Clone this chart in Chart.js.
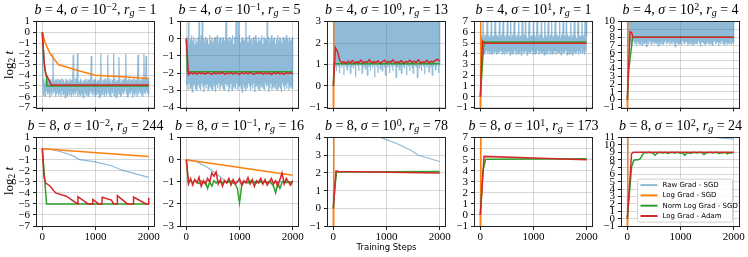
<!DOCTYPE html>
<html>
<head>
<meta charset="utf-8">
<script src="https://cdn.jsdelivr.net/npm/chart.js@4.4.1/dist/chart.umd.min.js"></script>
<style>
  body { margin: 0; background: #fff; }
  #fig { position: relative; width: 748px; height: 257px; overflow: hidden; }
  canvas { position: absolute; }
  .ttl { position: absolute; font: 14px "Liberation Serif", serif; line-height: 14px; white-space: nowrap; transform: translateX(-50%); }
  .ttl .sup { position: relative; top: -0.42em; font-size: 0.72em; }
  .ttl .sub { position: relative; top: 0.22em; font-size: 0.72em; }
  .ylab { position: absolute; font: 13px "Liberation Serif", serif; line-height: 13px; white-space: nowrap; transform: translate(-50%, -50%) rotate(-90deg); }
  .ylab .sub { position: relative; top: 0.25em; font-size: 0.72em; }
  .xlab { position: absolute; font: 8.5px "DejaVu Sans", sans-serif; line-height: 10px; white-space: nowrap; transform: translate(-50%, -50%); }
</style>
</head>
<body>
<div id="fig"></div>
<script>
// ---- panel headers (row-major: top row b=4, bottom row b=8) ----
const batch    = [4, 4, 4, 4, 4, 8, 8, 8, 8, 8];
const sigmaExp = [-2, -1, 0, 1, 2, -2, -1, 0, 1, 2];
const rg       = [1, 5, 13, 1, 4, 244, 16, 78, 173, 24];
const yMin     = [-7, -4, -1, -1, -1, -7, -3, -1, -1, -1];
const yMax     = [1, 1, 3, 7, 10, 1, 1, 4, 7, 11];
const xTicks   = [0, 1000, 2000];
const seriesLabels = ['Raw Grad - SGD', 'Log Grad - SGD', 'Norm Log Grad - SGD', 'Log Grad - Adam'];

// noisy series: values at evenly spaced steps 0..2000
// smooth series: [step, log2 t] pairs

// b=4, sigma=1e-2
const raw_b4_s0 = [
  0, -4.5, -5.9, -4.3, -5.6, -4.7, -6.0, -4.4, -5.5, -4.6,
  -5.8, -4.3, -5.7, -4.5, -6.1, -4.4, -5.6, -4.7, -5.9, -4.3,
  -2.0, -5.7, -4.6, -5.5, -4.4, -6.0, -4.5, -5.8, -4.3, -5.6,
  -4.7, -5.9, -4.4, -5.7, -4.5, -6.0, -4.3, -5.5, -4.6, -5.8,
  -4.4, -5.6, -4.7, -6.1, -4.3, -5.7, -4.5, -5.9, -4.4, -5.6,
  -4.6, -5.8, -4.3, -5.5, -4.5, -6.0, -4.4, -5.7, -2.1, -5.9,
  -4.7, -5.6, -4.3, -5.8, -4.5, -5.5, -2.0, -6.0, -4.4, -5.7,
  -4.6, -5.9, -4.3, -5.6, -4.5, -5.8, -4.7, -6.1, -4.4, -5.5,
  -4.5, -5.7, -4.3, -5.9, -4.6, -5.6, -4.4, -6.0, -4.5, -5.8,
  -4.3, -5.5, -2.2, -5.7, -4.7, -5.9, -4.4, -5.6, -4.5, -6.0,
  -4.3, -5.8, -4.6, -5.5, -4.4, -5.7, -4.5, -6.1, -4.3, -5.9,
  -2.0, -5.6, -4.7, -5.8, -4.4, -5.5, -4.5, -6.0, -4.3, -5.7,
  -4.6, -5.9, -4.4, -2.1, -5.6, -4.5, -5.8, -4.3, -6.0, -4.7,
  -5.5, -4.4, -5.7, -4.5, -2.0, -5.9, -4.3, -5.6, -4.6, -6.1,
  -4.4, -5.8, -4.5, -5.5, -2.3, -5.7, -4.3, -6.0, -4.7, -5.9,
  -4.4, -5.6, -4.5, -5.8, -4.3, -5.5, -4.6, -2.0, -5.7, -4.4,
  -6.0, -4.5, -5.9, -4.3, -5.6, -4.7, -5.8, -4.4, -5.5, -4.5,
  -6.1, -4.3, -5.7, -4.6, -5.9, -4.4, -5.6, -4.5, -6.0, -4.3,
  -2.1, -5.8, -4.7, -5.5, -4.4, -5.7, -4.5, -5.9, -4.3, -6.0,
  -4.6, -2.0, -5.6, -4.4, -5.8, -2.2, -5.5, -4.5, -5.7, -4.3,
  -5.9];
const log_b4_s0 = [[0, 0], [50, -0.9], [100, -1.5], [150, -2.0], [300, -3.0], [500, -3.3], [700, -3.6], [1000, -4.0], [1500, -4.15], [2000, -4.3]];
const norm_b4_s0 = [[0, 0], [40, -3.2], [80, -4.3], [85, -5.0], [2000, -5.0]];
const adam_b4_s0 = [[0, 0], [30, -2.5], [60, -3.8], [100, -4.2], [170, -4.9], [2000, -4.9]];

// b=4, sigma=1e-1
const raw_b4_s1 = [
  0, -2.7, 0.1, -3.0, 1.5, -2.6, -0.2, -2.9, 0.0, -2.8,
  0.2, -3.1, -0.1, -2.7, 0.1, -2.6, -0.3, -2.9, 0.0, -3.0,
  -0.2, -2.8, 0.1, -2.7, 1.4, -2.9, -0.1, -3.0, 0.2, -2.6,
  1.6, -2.8, 0.0, -3.1, -0.2, -2.7, 0.1, -2.9, -0.1, -2.6,
  0.0, -3.0, -0.3, -2.8, 0.2, -2.7, -0.1, -2.9, 0.1, -3.0,
  -0.2, -2.6, 0.0, -2.8, 0.1, -3.1, -0.1, -2.7, 0.2, -2.9,
  -0.3, -2.6, 0.0, -3.0, 0.1, -2.8, -0.2, -2.7, 0.0, -2.9,
  0.1, -3.0, -0.1, -2.6, 0.2, 1.3, -2.8, 0.0, -2.7, -0.2,
  -3.1, 0.1, -2.9, -0.1, -2.6, 0.0, -3.0, 0.2, -2.8, -0.3,
  -2.7, 0.1, -2.9, 0.0, 1.5, -2.6, -0.1, -3.0, 1.4, -2.8,
  0.2, -2.7, -0.2, -2.9, 0.0, -3.1, 0.1, -2.6, -0.1, -2.8,
  0.0, -3.0, 1.6, -2.7, 0.1, -2.9, -0.2, -2.6, 0.2, -2.8,
  -0.1, -3.0, 0.0, -2.7, -0.3, -2.9, 0.1, -2.6, -0.1, -3.1,
  0.2, -2.8, 0.0, -2.7, -0.2, -2.9, 0.1, -3.0, -0.1, -2.6,
  0.0, -2.8, 0.2, -2.7, -0.3, -2.9, 0.1, -3.0, 0.0, -2.6,
  -0.1, -2.8, 1.3, -2.7, 0.1, -3.1, -0.2, -2.9, 0.0, -2.6,
  0.2, -3.0, -0.1, -2.8, 0.0, -2.7, 0.1, -2.9, -0.3, -2.6,
  0.0, -3.0, 0.2, -2.8, -0.1, -2.7, 0.1, -2.9, 0.0, -3.1,
  -0.2, -2.6, 0.1, -2.8, 0.0, -3.0, -0.1, -2.7, 0.2, -2.9,
  0.0, -2.6, -0.2, -3.0, 0.1, -2.8, -0.1, -2.7, 0.0, -2.9,
  0.1];
const log_b4_s1 = [];
const norm_b4_s1 = [[0, 0], [20, -1.92], [2000, -1.92]];
const adam_b4_s1 = [0, -2.08, -1.96, -2.04, -1.98, -2.07, -1.95, -2.03, -2.0, -2.06, -1.97, -2.02, -2.08, -1.96, -2.05, -1.99, -2.03, -1.95, -2.07, -2.0, -2.04, -1.97, -2.06, -1.98, -2.02, -2.08, -1.96, -2.04, -1.99, -2.05, -1.95, -2.03, -2.07, -1.98, -2.02, -1.96, -2.06, -2.0, -2.04, -1.97, -2.08, -1.99, -2.03, -1.96, -2.05, -2.0, -2.07, -1.97, -2.02, -1.98, -2.04];

// b=4, sigma=1e0
const raw_b4_s2 = [
  0, 4.5, 0.9, 4.2, 1.0, 4.8, 0.7, 4.4, 0.95, 4.6,
  0.9, 4.3, 0.6, 4.9, 1.0, 4.2, 0.85, 4.5, 0.95, 4.4,
  0.5, 4.7, 1.0, 4.3, 0.9, 4.6, 0.75, 4.2, 0.95, 4.5,
  1.0, 4.8, 0.6, 4.3, 0.9, 4.6, 1.0, 4.4, 0.8, 4.2,
  0.95, 4.7, 0.4, 4.5, 1.0, 4.3, 0.9, 4.6, 0.7, 4.4,
  1.0, 4.8, 0.95, 4.2, 0.6, 4.5, 0.9, 4.3, 1.0, 4.6,
  0.8, 4.4, 0.95, 4.7, 0.5, 4.2, 1.0, 4.5, 0.9, 4.3,
  0.7, 4.6, 1.0, 4.4, 0.85, 4.8, 0.95, 4.2, 0.4, 4.5,
  1.0, 4.3, 0.9, 4.6, 0.6, 4.4, 1.0, 4.7, 0.8, 4.2,
  0.95, 4.5, 0.7, 4.3, 1.0, 4.6, 0.9, 4.4, 0.5, 4.8,
  1.0, 4.2, 0.85, 4.5, 0.95, 4.3, 0.6, 4.6, 1.0, 4.4,
  0.9, 4.7, 0.7, 4.2, 1.0, 4.5, 0.95, 4.3, 0.4, 4.6,
  0.9, 4.4, 1.0, 4.8, 0.75, 4.2, 0.95, 4.5, 0.6, 4.3,
  1.0, 4.6, 0.9, 4.4, 0.8, 4.7, 1.0, 4.2, 0.5, 4.5,
  0.95, 4.3, 0.9, 4.6, 0.7, 4.4, 1.0, 4.8, 0.85, 4.2,
  0.6, 4.5, 1.0, 4.3, 0.95, 4.6, 0.9, 4.4, 0.4, 4.7,
  1.0, 4.2, 0.8, 4.5, 0.95, 4.3, 0.7, 4.6, 1.0, 4.4,
  0.9, 4.8, 0.55, 4.2, 1.0, 4.5, 0.85, 4.3, 0.95, 4.6,
  0.65, 4.4, 1.0, 4.7, 0.9, 4.2, 0.5, 4.5, 0.95, 4.3,
  1.0, 4.6, 0.75, 4.4, 0.9, 4.8, 1.0, 4.2, 0.6, 4.5,
  0.95];
const log_b4_s2 = [[0, 0], [5, -60], [10, 60]];
const norm_b4_s2 = [[0, 0], [15, 1.03], [2000, 1.03]];
const adam_b4_s2 = [0, 1.78, 1.6, 1.2, 1.08, 1.12, 1.05, 1.15, 1.08, 1.18, 1.06, 1.12, 1.09, 1.2, 1.07, 1.14, 1.1, 1.22, 1.06, 1.13, 1.09, 1.17, 1.05, 1.12, 1.2, 1.08, 1.15, 1.1, 1.21, 1.07, 1.13, 1.09, 1.18, 1.06, 1.14, 1.11, 1.2, 1.08, 1.16, 1.1, 1.22, 1.07, 1.13, 1.1, 1.19, 1.08, 1.15, 1.11, 1.2, 1.25, 1.15];

// b=4, sigma=1e1
const raw_b4_s3 = [
  0, 5.6, 4.1, 5.7, 4.0, 8.0, 4.2, 5.5, 3.9, 5.8,
  4.1, 5.6, 4.3, 8.0, 4.0, 5.7, 4.2, 5.5, 3.9, 5.8,
  4.1, 8.0, 4.0, 5.6, 4.3, 5.7, 4.1, 5.5, 8.0, 4.2,
  5.8, 3.9, 5.6, 4.1, 5.7, 4.0, 8.0, 4.2, 5.5, 4.3,
  5.8, 4.0, 5.6, 8.0, 4.1, 5.7, 3.9, 5.5, 4.2, 5.8,
  4.0, 8.0, 4.1, 5.6, 4.3, 5.7, 3.9, 8.0, 4.2, 5.5,
  4.0, 5.8, 4.1, 5.6, 8.0, 4.3, 5.7, 3.9, 5.5, 4.2,
  5.8, 4.0, 8.0, 4.1, 5.6, 4.3, 5.7, 3.9, 5.5, 8.0,
  4.2, 5.8, 4.0, 5.6, 4.1, 8.0, 4.3, 5.7, 3.9, 5.5,
  4.2, 5.8, 8.0, 4.0, 5.6, 4.1, 5.7, 4.3, 5.5, 3.9,
  8.0, 4.2, 5.8, 4.0, 5.6, 4.1, 5.7, 8.0, 4.3, 5.5,
  3.9, 5.8, 4.2, 5.6, 4.0, 8.0, 4.1, 5.7, 4.3, 5.5,
  3.9, 8.0, 4.2, 5.8, 4.0, 5.6, 4.1, 5.7, 8.0, 4.3,
  5.5, 3.9, 5.8, 4.2, 8.0, 4.0, 5.6, 4.1, 5.7, 4.3,
  5.5, 8.0, 3.9, 5.8, 4.2, 5.6, 4.0, 5.7, 4.1, 8.0,
  4.3, 5.5, 3.9, 5.8, 4.2, 5.6, 8.0, 4.0, 5.7, 4.1,
  5.5, 4.3, 8.0, 3.9, 5.8, 4.2, 5.6, 4.0, 5.7, 4.1,
  8.0, 4.3, 5.5, 3.9, 5.8, 4.2, 5.6, 8.0, 4.0, 5.7,
  4.1, 5.5, 4.3, 5.8, 8.0, 3.9, 5.6, 4.2, 5.7, 4.0,
  5.5, 8.0, 4.1, 5.8, 4.3, 5.6, 3.9, 8.0, 4.2, 5.7,
  8.0];
const log_b4_s3 = [[0, 0], [5, -60], [10, 60]];
const norm_b4_s3 = [[0, 0], [60, 4.6], [80, 5.1], [2000, 5.1]];
const adam_b4_s3 = [[0, 0], [40, 5.2], [80, 4.97], [2000, 4.97]];

// b=4, sigma=1e2
const raw_b4_s4 = [
  0, 10.5, 7.3, 10.2, 7.1, 10.6, 7.4, 10.3, 7.0, 10.5,
  7.2, 10.4, 7.5, 10.2, 7.1, 10.6, 7.3, 10.3, 6.9, 10.5,
  7.4, 10.2, 7.2, 10.6, 7.1, 10.4, 7.5, 10.3, 7.0, 10.5,
  7.3, 10.2, 7.2, 10.6, 7.4, 10.3, 6.8, 10.5, 7.3, 10.4,
  7.1, 10.2, 7.5, 10.6, 7.2, 10.3, 7.0, 10.5, 7.4, 10.2,
  7.1, 10.4, 7.3, 10.6, 7.2, 10.3, 7.5, 10.5, 6.9, 10.2,
  7.3, 10.4, 7.1, 10.6, 7.4, 10.3, 7.2, 10.5, 7.0, 10.2,
  7.3, 10.4, 7.5, 10.6, 7.1, 10.3, 7.2, 10.5, 7.4, 10.2,
  7.0, 10.4, 7.3, 10.6, 7.1, 10.3, 7.5, 10.5, 7.2, 10.2,
  6.8, 10.4, 7.3, 10.6, 7.4, 10.3, 7.1, 10.5, 7.2, 10.2,
  7.3, 10.4, 7.0, 10.6, 7.5, 10.3, 7.2, 10.5, 7.1, 10.2,
  7.4, 10.4, 7.3, 10.6, 6.9, 10.3, 7.2, 10.5, 7.5, 10.2,
  7.1, 10.4, 7.3, 10.6, 7.0, 10.3, 7.4, 10.5, 7.2, 10.2,
  7.3, 10.4, 7.1, 10.6, 7.5, 10.3, 7.2, 10.5, 6.8, 10.2,
  7.4, 10.4, 7.3, 10.6, 7.1, 10.3, 7.0, 10.5, 7.2, 10.2,
  7.5, 10.4, 7.3, 10.6, 7.1, 10.3, 7.4, 10.5, 7.2, 10.2,
  7.0, 10.4, 7.3, 10.6, 7.5, 10.3, 7.1, 10.5, 7.2, 10.2,
  7.4, 10.4, 6.9, 10.6, 7.3, 10.3, 7.1, 10.5, 7.5, 10.2,
  7.2, 10.4, 7.0, 10.6, 7.3, 10.3, 7.4, 10.5, 7.1, 10.2,
  7.3, 10.4, 7.2, 10.6, 7.5, 10.3, 7.0, 10.5, 7.3, 10.2,
  7.2];
const log_b4_s4 = [[0, 0], [5, -60], [10, 60]];
const norm_b4_s4 = [[0, 0], [25, 3.7], [100, 8.0], [2000, 8.0]];
const adam_b4_s4 = [[0, 0], [50, 8.7], [80, 8.6], [110, 8.0], [2000, 8.0]];

// b=8, sigma=1e-2
const raw_b8_s0 = [[0, 0], [200, -0.1], [400, -0.35], [600, -0.7], [700, -1.0], [1000, -1.2], [1300, -1.55], [1500, -1.95], [2000, -2.6]];
const log_b8_s0 = [[0, 0], [2000, -0.72]];
const norm_b8_s0 = [[0, 0], [40, -2.5], [80, -5.0], [2000, -5.0]];
const adam_b8_s0 = [[0, 0], [30, -2.5], [60, -3.1], [150, -3.4], [250, -4.0], [450, -4.3], [665, -5.0], [670, -4.35], [860, -5.0], [945, -5.0], [950, -4.6], [1060, -5.0], [1120, -5.0], [1126, -4.4], [1300, -4.65], [1340, -5.0], [1405, -5.0], [1411, -4.25], [1600, -5.0], [1710, -5.0], [1715, -4.38], [1950, -5.0], [1990, -5.0], [2000, -4.45]];

// b=8, sigma=1e-1
const raw_b8_s1 = [[0, 0], [200, -0.1], [400, -0.35], [600, -0.7], [750, -1.0], [2000, -1.0]];
const log_b8_s1 = [[0, 0], [2000, -0.7]];
const norm_b8_s1 = [0, -1.0, -0.95, -1.05, -0.92, -1.02, -1.08, -0.97, -1.05, -1.0, -1.3, -1.0, -1.2, -0.95, -1.05, -0.98, -1.02, -1.06, -0.96, -1.04, -1.0, -0.97, -1.05, -1.1, -1.3, -1.95, -1.2, -1.02, -0.98, -1.05, -0.96, -1.03, -1.0, -1.06, -0.97, -1.02, -1.05, -0.98, -1.04, -1.0, -1.07, -1.2, -1.5, -1.05, -1.3, -1.02, -0.98, -1.04, -1.0, -1.03, -1.0];
const adam_b8_s1 = [0, -1.1, -0.85, -1.15, -0.9, -1.05, -0.8, -1.2, -0.95, -1.1, -0.85, -1.0, -0.6, -0.75, -0.55, -1.1, -0.9, -1.2, -0.95, -1.05, -0.85, -1.15, -0.9, -1.1, -1.0, -0.85, -1.15, -0.95, -1.05, -0.8, -1.1, -0.9, -1.2, -0.95, -1.05, -0.85, -1.1, -0.9, -1.15, -1.0, -0.85, -1.1, -0.95, -1.2, -0.9, -0.6, -1.1, -0.85, -1.0, -1.15, -0.95];

// b=8, sigma=1e0
const raw_b8_s2 = [[0, 0], [20, 6.5], [400, 4.8], [900, 4.0], [1200, 3.65], [1450, 3.3], [1600, 3.0], [2000, 2.65]];
const log_b8_s2 = [[0, 0], [5, -60], [10, 60]];
const norm_b8_s2 = [[0, 0], [25, 1.0], [60, 2.05], [2000, 2.08]];
const adam_b8_s2 = [[0, 0], [50, 2.12], [100, 2.08], [2000, 2.0]];

// b=8, sigma=1e1
const raw_b8_s3 = [[0, 0], [20, 12], [2000, 10]];
const log_b8_s3 = [[0, 0], [5, -60], [10, 60]];
const norm_b8_s3 = [[0, 0], [50, 4.0], [100, 5.05], [2000, 5.08]];
const adam_b8_s3 = [[0, 0], [70, 5.3], [1000, 5.15], [2000, 5.0]];

// b=8, sigma=1e2
const raw_b8_s4 = [[0, 0], [20, 15], [1700, 11.0], [2000, 10.8]];
const log_b8_s4 = [[0, 0], [5, -60], [10, 60]];
const norm_b8_s4 = [0, 3.5, 7.0, 7.9, 8.0, 8.0, 8.1, 8.6, 9.0, 8.9, 9.0, 8.95, 8.9, 8.6, 8.85, 9.0, 8.95, 8.9, 9.0, 8.85, 8.95, 9.0, 8.9, 8.95, 9.0, 8.85, 8.95, 8.6, 8.9, 8.95, 8.85, 9.0, 8.95, 8.9, 9.0, 8.95, 8.7, 8.9, 8.95, 9.0, 8.9, 8.95, 9.0, 8.85, 8.95, 8.9, 9.0, 8.8, 8.95, 8.9, 9.0];
const adam_b8_s4 = [[0, 0], [80, 8.8], [110, 9.0], [2000, 9.0]];

const panels = [
  [raw_b4_s0, log_b4_s0, norm_b4_s0, adam_b4_s0],
  [raw_b4_s1, log_b4_s1, norm_b4_s1, adam_b4_s1],
  [raw_b4_s2, log_b4_s2, norm_b4_s2, adam_b4_s2],
  [raw_b4_s3, log_b4_s3, norm_b4_s3, adam_b4_s3],
  [raw_b4_s4, log_b4_s4, norm_b4_s4, adam_b4_s4],
  [raw_b8_s0, log_b8_s0, norm_b8_s0, adam_b8_s0],
  [raw_b8_s1, log_b8_s1, norm_b8_s1, adam_b8_s1],
  [raw_b8_s2, log_b8_s2, norm_b8_s2, adam_b8_s2],
  [raw_b8_s3, log_b8_s3, norm_b8_s3, adam_b8_s3],
  [raw_b8_s4, log_b8_s4, norm_b8_s4, adam_b8_s4],
];

// ---- styling / layout ----
const COLORS = ['rgba(31,119,180,0.5)', '#ff7f0e', '#2ca02c', '#d62728'];
// raw line a bit over 1px so the canvas unions the stroke (no alpha build-up)
const WIDTHS = [1.2, 1.5, 1.5, 1.5];
const GRID = 'rgba(176,176,176,0.5)';
const COL_L = [37, 181, 328, 475, 622];
const ROW_T = [20, 136];
const PW = 117, PH = [89, 90];
const YW = 34, PAD_T = 8, PAD_R = 18, XH = [8, 22];
const SERIF = '"Liberation Serif", serif';

const fig = document.getElementById('fig');
const minus = (v) => (v < 0 ? '\u2212' + (-v) : String(v));

// turn either [step, y] pairs or evenly sampled values into {x, y}
function pts(arr) {
  if (!arr.length) return [];
  if (Array.isArray(arr[0])) return arr.map(([x, y]) => ({ x, y }));
  const n = arr.length - 1;
  return arr.map((y, i) => ({ x: (i * 2000) / n, y }));
}

// full box like matplotlib spines
const frame = {
  id: 'frame',
  afterDatasetsDraw(c) {
    const a = c.chartArea, g = c.ctx;
    g.save();
    g.strokeStyle = '#222';
    g.lineWidth = 1;
    g.strokeRect(Math.round(a.left) - 0.5, Math.round(a.top) - 0.5,
                 Math.round(a.right - a.left) + 1, Math.round(a.bottom - a.top) + 1);
    g.restore();
  },
};

// legend box inside the last panel
const legendBox = {
  id: 'legendBox',
  afterDraw(c) {
    if (!c.options.plugins.legendBox || !c.options.plugins.legendBox.show) return;
    const a = c.chartArea, g = c.ctx;
    const x = a.left + 15.5, y = a.top + 41.5, w = 95, h = 43;
    g.save();
    g.fillStyle = 'rgba(255,255,255,0.85)';
    g.strokeStyle = '#d0d0d0';
    g.lineWidth = 1;
    g.beginPath();
    g.roundRect(x, y, w, h, 2);
    g.fill();
    g.stroke();
    g.font = '7px "DejaVu Sans", sans-serif';
    g.textBaseline = 'middle';
    seriesLabels.forEach((lab, i) => {
      const yy = y + 6 + i * 10.3;
      g.strokeStyle = COLORS[i];
      g.lineWidth = 2;
      g.beginPath(); g.moveTo(x + 3, yy); g.lineTo(x + 20, yy); g.stroke();
      g.fillStyle = '#000';
      g.fillText(lab, x + 25, yy);
    });
    g.restore();
  },
};

panels.forEach((series, k) => {
  const row = Math.floor(k / 5), col = k % 5;
  const L = COL_L[col], T = ROW_T[row], H = PH[row];

  const cv = document.createElement('canvas');
  cv.width = YW + PW + PAD_R;
  cv.height = PAD_T + H + XH[row];
  cv.style.left = (L - YW) + 'px';
  cv.style.top = (T - PAD_T) + 'px';
  fig.appendChild(cv);

  // title
  const t = document.createElement('div');
  t.className = 'ttl';
  t.style.left = (L + PW / 2) + 'px';
  t.style.top = (T - 5 - 11.8) + 'px';
  t.innerHTML = `<i>b</i> = ${batch[k]}, <i>σ</i> = 10<span class="sup">${minus(sigmaExp[k])}</span>, <i>r</i><span class="sub"><i>g</i></span> = ${rg[k]}`;
  fig.appendChild(t);

  new Chart(cv.getContext('2d'), {
    type: 'line',
    data: {
      datasets: series.map((s, i) => ({
        label: seriesLabels[i],
        data: pts(s),
        borderColor: COLORS[i],
        borderWidth: WIDTHS[i],
        pointRadius: 0,
        tension: 0,
        clip: 0,
        order: 4 - i,
      })),
    },
    options: {
      responsive: false, animation: false, devicePixelRatio: 1,
      layout: { padding: { left: 0, top: PAD_T, right: PAD_R, bottom: 0 } },
      plugins: { legend: { display: false }, tooltip: { enabled: false }, legendBox: { show: k === 9 } },
      scales: {
        x: {
          type: 'linear', min: -100, max: 2100,
          afterBuildTicks: (s) => { s.ticks = xTicks.map((v) => ({ value: v })); },
          afterFit: (s) => { s.height = XH[row]; },
          border: { display: false },
          grid: { color: GRID, tickColor: '#222', tickLength: 4, drawTicks: true },
          ticks: {
            display: row === 1, autoSkip: false, maxRotation: 0, padding: 1,
            color: '#000', font: { family: SERIF, size: 11 },
            callback: (v) => String(v),
          },
        },
        y: {
          min: yMin[k], max: yMax[k],
          afterFit: (s) => { s.width = YW; },
          border: { display: false },
          grid: { color: GRID, tickColor: '#222', tickLength: 4, drawTicks: true },
          ticks: {
            stepSize: 1, autoSkip: false, maxTicksLimit: 20, padding: 3,
            color: '#000', font: { family: SERIF, size: 11 },
            callback: (v) => minus(v),
          },
        },
      },
    },
    plugins: [frame, legendBox],
  });
});

// axis labels
ROW_T.forEach((T, r) => {
  const d = document.createElement('div');
  d.className = 'ylab';
  d.style.left = '9px';
  d.style.top = (T + PH[r] / 2) + 'px';
  d.innerHTML = 'log<span class="sub">2</span> <i>t</i>';
  fig.appendChild(d);
});
const xl = document.createElement('div');
xl.className = 'xlab';
xl.style.left = (COL_L[2] + PW / 2) + 'px';
xl.style.top = '247px';
xl.textContent = 'Training Steps';
fig.appendChild(xl);
</script>
</body>
</html>
